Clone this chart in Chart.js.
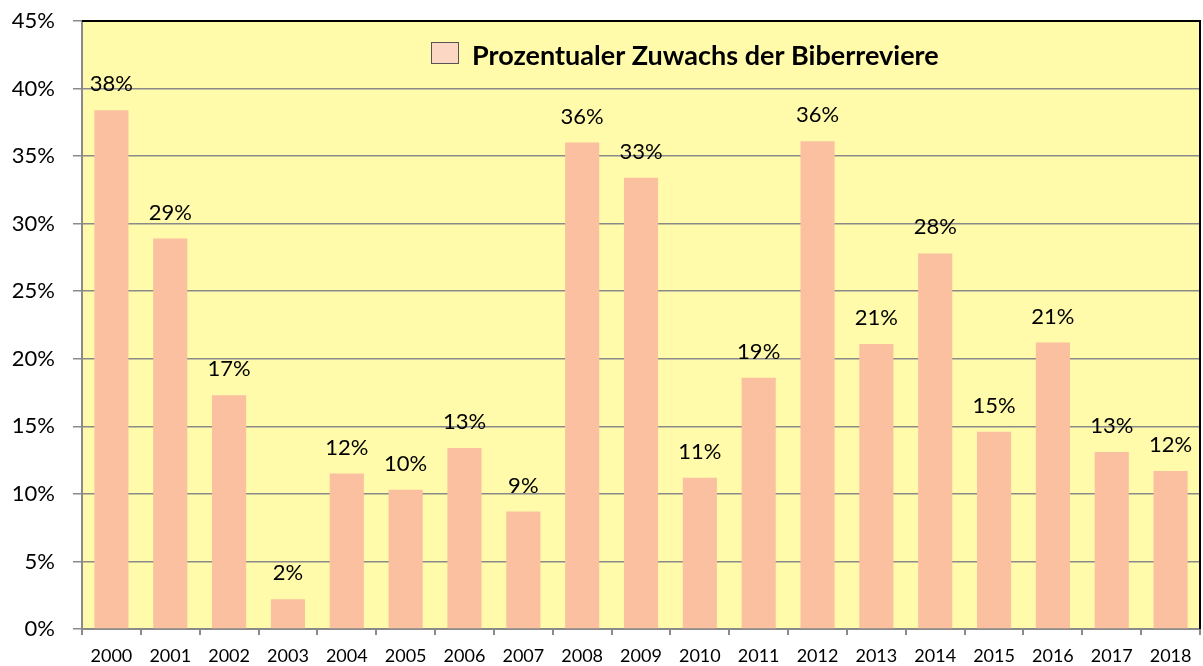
<!DOCTYPE html>
<html>
<head>
<meta charset="utf-8">
<script src="https://cdn.jsdelivr.net/npm/chart.js@4/dist/chart.umd.min.js"></script>
<style>
  html, body { margin: 0; padding: 0; background: #fff; }
  #wrap { width: 1203px; height: 666px; }
</style>
</head>
<body>
<div id="wrap"><canvas id="biberChart"></canvas></div>
<script>
const years = [
  "2000", "2001", "2002", "2003", "2004", "2005", "2006", "2007", "2008", "2009",
  "2010", "2011", "2012", "2013", "2014", "2015", "2016", "2017", "2018",
];
// growth of beaver territories per year, in percent
const growth = [
  38.4, 28.9, 17.3, 2.2, 11.5, 10.3, 13.4, 8.7, 36.0, 33.4,
  11.2, 18.6, 36.1, 21.1, 27.8, 14.6, 21.2, 13.1, 11.7,
];
const yTicks = [0, 5, 10, 15, 20, 25, 30, 35, 40, 45];

const FONT = "Lato, 'Open Sans', sans-serif";

// yellow plot background plus black frame on top and right
const plotFrame = {
  id: "plotFrame",
  beforeDraw(chart) {
    const { ctx, chartArea: a } = chart;
    ctx.save();
    ctx.fillStyle = "#FFFBAA";
    ctx.fillRect(a.left, a.top, a.right - a.left, a.bottom - a.top);
    ctx.restore();
  },
  afterDraw(chart) {
    const { ctx, chartArea: a } = chart;
    ctx.save();
    ctx.strokeStyle = "#000";
    ctx.lineWidth = 2;
    ctx.beginPath();
    ctx.moveTo(a.left, a.top);
    ctx.lineTo(a.right, a.top);
    ctx.lineTo(a.right, a.bottom);
    ctx.stroke();
    ctx.restore();
  },
};

// percent labels above the bars
const barLabels = {
  id: "barLabels",
  afterDatasetsDraw(chart) {
    const { ctx } = chart;
    const meta = chart.getDatasetMeta(0);
    ctx.save();
    ctx.font = "22px " + FONT;
    ctx.fillStyle = "#000";
    ctx.textAlign = "center";
    ctx.textBaseline = "middle";
    meta.data.forEach((bar, i) => {
      const v = chart.data.datasets[0].data[i];
      ctx.fillText(Math.round(v) + "%", bar.x, bar.y - 26);
    });
    ctx.restore();
  },
};

// legend drawn inside the plot area
const innerLegend = {
  id: "innerLegend",
  afterDraw(chart) {
    const { ctx } = chart;
    const ds = chart.data.datasets[0];
    ctx.save();
    ctx.fillStyle = "#FCD8C4";
    ctx.strokeStyle = "#555";
    ctx.lineWidth = 1;
    ctx.fillRect(431, 42, 28, 22);
    ctx.strokeRect(431.5, 42.5, 27, 21);
    ctx.font = "bold 27px " + FONT;
    ctx.fillStyle = "#000";
    ctx.textAlign = "left";
    ctx.textBaseline = "alphabetic";
    ctx.fillText(ds.label, 472, 65);
    ctx.restore();
  },
};

new Chart(document.getElementById("biberChart"), {
  type: "bar",
  data: {
    labels: years,
    datasets: [
      {
        label: "Prozentualer Zuwachs der Biberreviere",
        data: growth,
        backgroundColor: "#FAC0A0",
        barPercentage: 0.58,
        categoryPercentage: 1,
      },
    ],
  },
  options: {
    responsive: true,
    maintainAspectRatio: false,
    animation: false,
    layout: { padding: { top: 21, right: 3, left: 0, bottom: 0 } },
    plugins: {
      legend: { display: false },
      tooltip: { enabled: false },
    },
    scales: {
      x: {
        grid: {
          offset: true,
          drawOnChartArea: false,
          color: "#8a8a8a",
          lineWidth: 2,
          tickLength: 6,
        },
        border: { color: "#8a8a8a", width: 2 },
        ticks: {
          color: "#000",
          font: { family: FONT, size: 18 },
          padding: 10,
          maxRotation: 0,
          autoSkip: false,
        },
        afterFit(scale) {
          scale.height = 37;
        },
      },
      y: {
        min: 0,
        max: 45,
        afterBuildTicks(scale) {
          scale.ticks = yTicks.map((v) => ({ value: v }));
        },
        grid: {
          color: "#8a8a8a",
          lineWidth: 1.5,
          tickLength: 9,
        },
        border: { color: "#8a8a8a", width: 2 },
        ticks: {
          color: "#000",
          font: { family: FONT, size: 22 },
          padding: 18,
          callback: (v) => v + "%",
        },
        afterFit(scale) {
          scale.width = 82;
          scale.paddingTop = 0;
          scale.paddingBottom = 0;
        },
      },
    },
  },
  plugins: [plotFrame, barLabels, innerLegend],
});
</script>
</body>
</html>
